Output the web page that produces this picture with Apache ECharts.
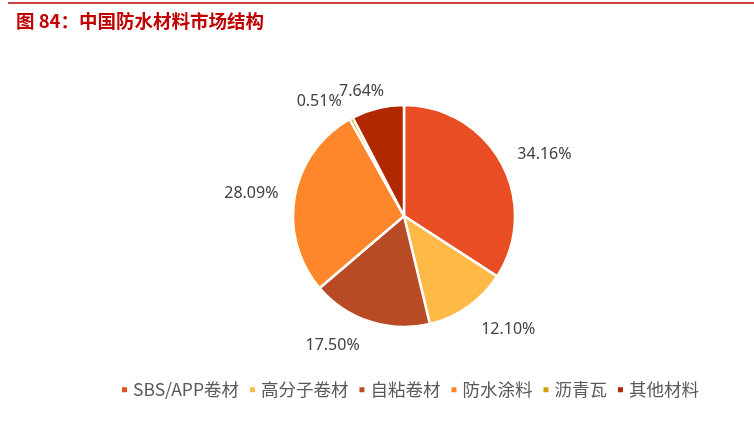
<!DOCTYPE html>
<html>
<head>
<meta charset="utf-8">
<script src="https://cdn.jsdelivr.net/npm/echarts@6/dist/echarts.min.js"></script>
<style>
html,body{margin:0;padding:0;background:#fff;}
#chart{width:754px;height:429px;}
</style>
</head>
<body>
<div id="chart"></div>
<script>
var titleText = '图 84：中国防水材料市场结构';
var categories = ['SBS/APP卷材', '高分子卷材', '自粘卷材', '防水涂料', '沥青瓦', '其他材料'];
var shares = [34.16, 12.10, 17.50, 28.09, 0.51, 7.64];
var colors = ['#E84D23', '#FFB947', '#B84A26', '#FD872A', '#D4A100', '#B02800'];
// small label nudges (px) to mimic the original label placement
var labelNudgeX = [6, 16, -24, -2, -12, -6];
var labelNudgeY = [11, -12, -16, 4, 20, 24];

var chart = echarts.init(document.getElementById('chart'));
var pieData = categories.map(function (c, i) {
  return { name: c, value: shares[i], itemStyle: { color: colors[i] } };
});
var ringData = categories.map(function (c, i) {
  return { name: c, value: shares[i] };
});

chart.setOption({
  animation: false,
  title: {
    text: titleText,
    left: 11,
    top: 7,
    textStyle: { color: '#C00000', fontSize: 18.5, fontWeight: 'bold', fontFamily: 'Noto Sans CJK SC' }
  },
  graphic: [{
    type: 'line',
    shape: { x1: 8, y1: 3, x2: 754, y2: 3 },
    style: { stroke: '#C00000', lineWidth: 1.5 }
  }],
  legend: {
    data: categories,
    left: 115,
    top: 376,
    itemWidth: 7,
    itemHeight: 7,
    itemGap: 9,
    icon: 'rect',
    textStyle: { color: '#595959', fontSize: 17.5, fontFamily: 'Noto Sans CJK SC' }
  },
  series: [{
    type: 'pie',
    center: [404, 216],
    radius: 111,
    startAngle: 90,
    clockwise: true,
    silent: true,
    label: { show: false },
    labelLine: { show: false },
    itemStyle: { borderColor: '#ffffff', borderWidth: 2.5 },
    data: pieData
  }, {
    type: 'pie',
    center: [404, 216],
    radius: [130, 170],
    startAngle: 90,
    clockwise: true,
    silent: true,
    itemStyle: { color: 'rgba(0,0,0,0)' },
    label: {
      show: true,
      position: 'inside',
      color: '#404040',
      fontSize: 16,
      fontFamily: 'Noto Sans',
      formatter: function (p) { return p.value.toFixed(2) + '%'; }
    },
    labelLine: { show: false },
    labelLayout: function (p) {
      return { dx: labelNudgeX[p.dataIndex], dy: labelNudgeY[p.dataIndex] };
    },
    data: ringData
  }]
});
</script>
</body>
</html>
